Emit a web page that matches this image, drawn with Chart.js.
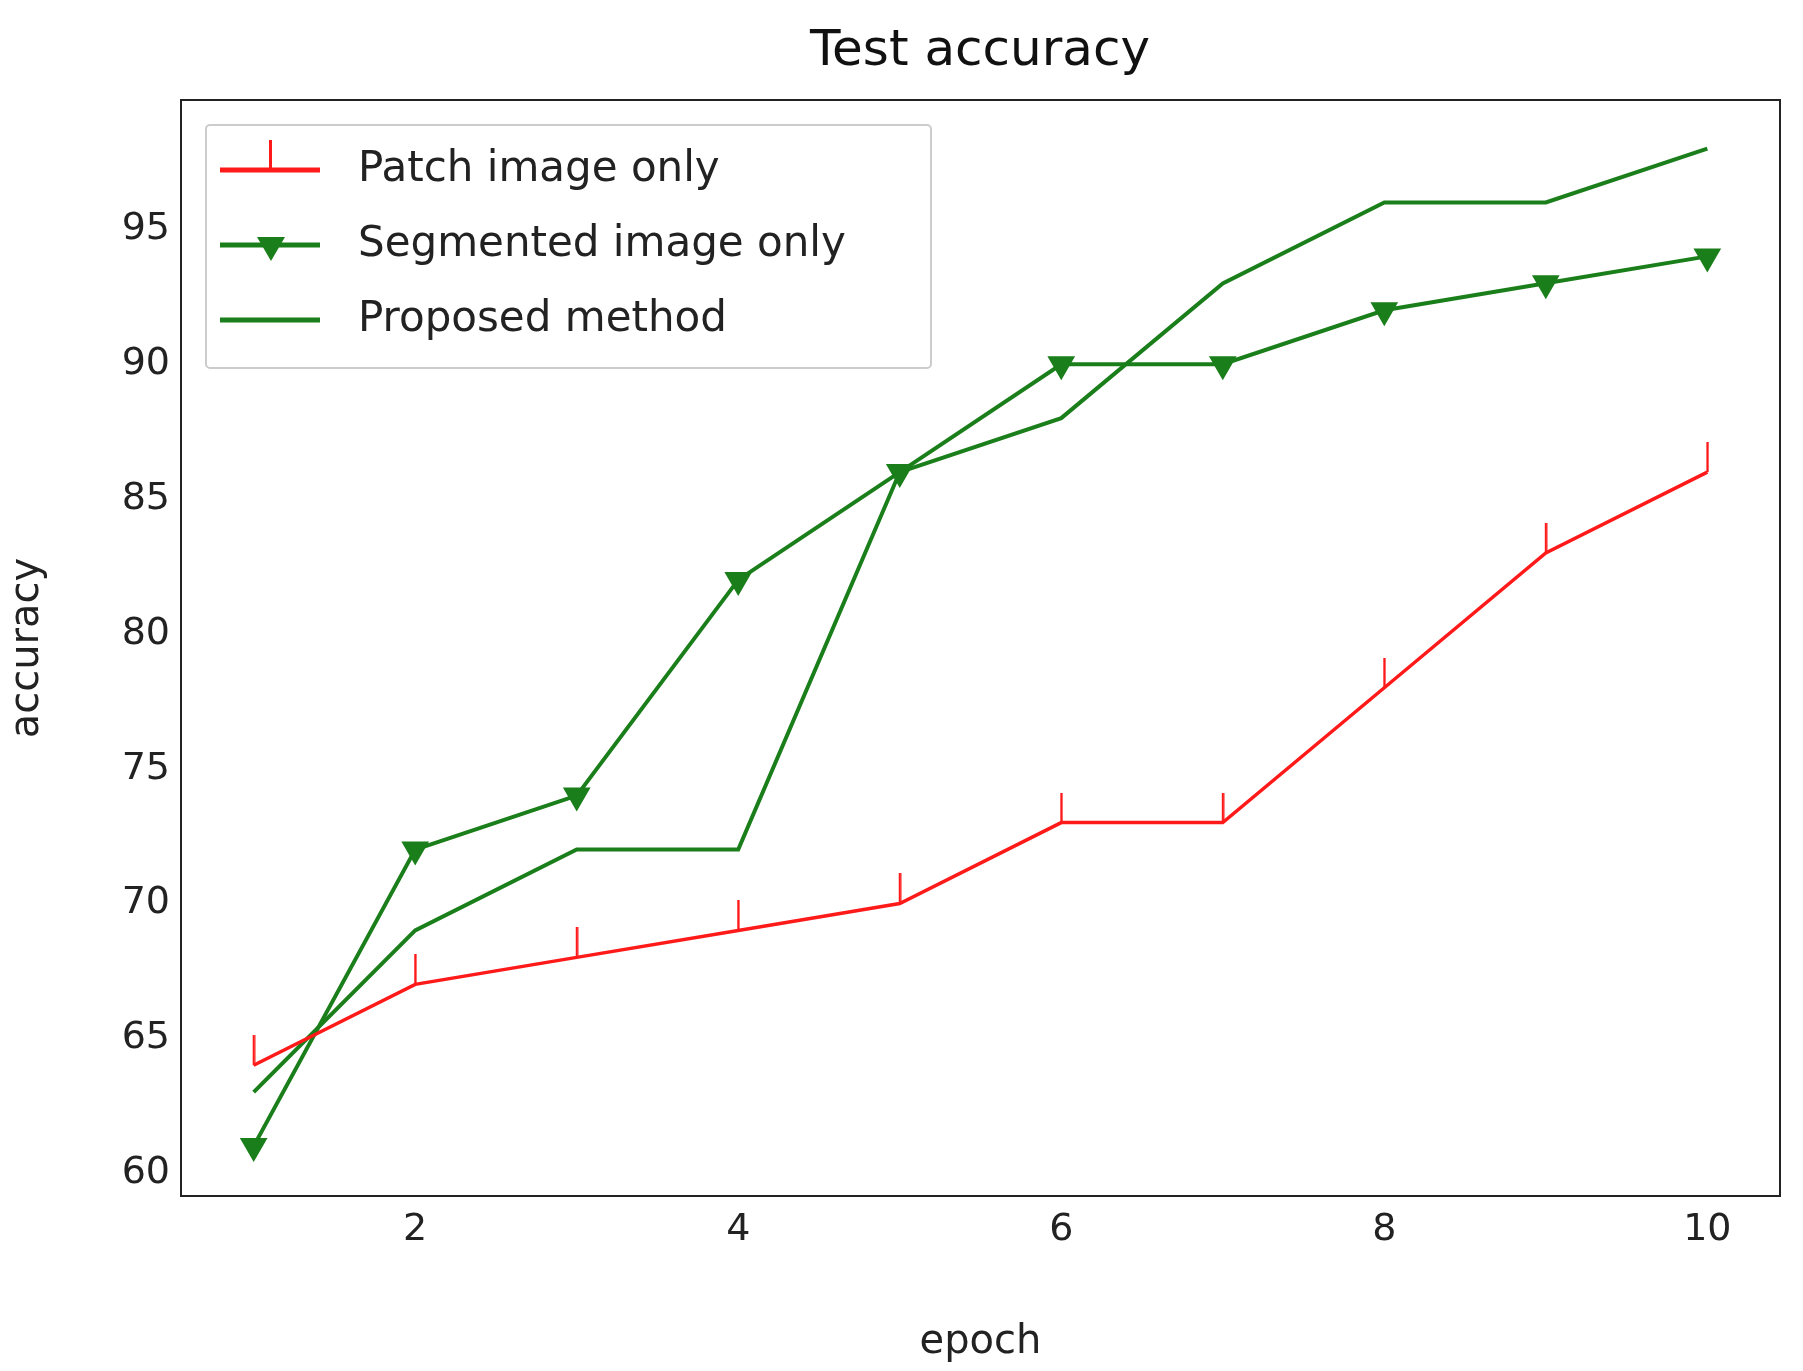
<!DOCTYPE html>
<html><head><meta charset="utf-8">
<script src="https://cdn.jsdelivr.net/npm/chart.js@4"></script>
<style>html,body{margin:0;background:#fff}</style>
</head><body>
<canvas id="c" width="1803" height="1371"></canvas>
<script>
const epochs = [1, 2, 3, 4, 5, 6, 7, 8, 9, 10];
const patchOnly = [64, 67, 68, 69, 70, 73, 73, 78, 83, 86];
const segmentedOnly = [61, 72, 74, 82, 86, 90, 90, 92, 93, 94];
const proposed = [63, 69, 72, 72, 86, 88, 93, 96, 96, 98];
const xTicks = [2, 4, 6, 8, 10];
const yTicks = [60, 65, 70, 75, 80, 85, 90, 95];
const labels = ['Patch image only', 'Segmented image only', 'Proposed method'];

const RED = '#ff1a1a', GREEN = '#1a7f1a';
const font = 'DejaVu Sans';

// vertical tick marker sitting above the point
const tick = document.createElement('canvas');
tick.width = 4; tick.height = 60;
const tctx = tick.getContext('2d');
tctx.fillStyle = RED; tctx.fillRect(1, 0, 2.5, 30);

const pts = a => a.map((v, i) => ({x: epochs[i], y: v}));

const legendPlugin = {
    id: 'legendBox',
    afterDraw(chart) {
        const ctx = chart.ctx;
        ctx.save();
        ctx.fillStyle = 'rgba(255,255,255,0.8)';
        ctx.strokeStyle = '#ccc';
        ctx.lineWidth = 2;
        ctx.beginPath(); ctx.roundRect(206, 125, 725, 243, 4); ctx.fill(); ctx.stroke();
        const rows = [170, 245, 320];
        const cols = [RED, GREEN, GREEN];
        rows.forEach((y, i) => {
            ctx.strokeStyle = cols[i]; ctx.lineWidth = 5;
            ctx.beginPath(); ctx.moveTo(220, y); ctx.lineTo(320, y); ctx.stroke();
            if (i === 0) { ctx.fillStyle = RED; ctx.fillRect(269, y - 30, 3, 30); }
            if (i === 1) {
                ctx.fillStyle = GREEN; ctx.beginPath();
                ctx.moveTo(257, y - 8); ctx.lineTo(285, y - 8); ctx.lineTo(271, y + 16); ctx.fill();
            }
            ctx.fillStyle = '#222'; ctx.font = '42px "' + font + '"';
            ctx.textBaseline = 'middle';
            ctx.fillText(labels[i], 358, y);
        });
        ctx.fillStyle = '#111'; ctx.font = '50px "' + font + '"';
        ctx.textAlign = 'center'; ctx.textBaseline = 'middle';
        ctx.fillText('Test accuracy', 980, 52);
        ctx.restore();
    }
};

new Chart(document.getElementById('c'), {
    type: 'line',
    data: {
        datasets: [
            {label: labels[0], data: pts(patchOnly), borderColor: RED, borderWidth: 3.5,
             pointStyle: tick, pointRadius: 10},
            {label: labels[1], data: pts(segmentedOnly), borderColor: GREEN, backgroundColor: GREEN, borderWidth: 4,
             pointStyle: 'triangle', rotation: 180, pointRadius: 12},
            {label: labels[2], data: pts(proposed), borderColor: GREEN, borderWidth: 4, pointRadius: 0}
        ]
    },
    options: {
        responsive: false, animation: false,
        layout: {padding: {top: 100, right: 23, left: 0, bottom: 0}},
        plugins: {legend: {display: false}, tooltip: {enabled: false}},
        scales: {
            x: {type: 'linear', min: 0.55, max: 10.45,
                afterBuildTicks: s => { s.ticks = xTicks.map(v => ({value: v})); },
                afterFit: s => { s.height = 175; },
                grid: {display: false, drawTicks: true},
                border: {color: '#222', width: 2},
                ticks: {color: '#222', font: {family: font, size: 38}},
                title: {display: true, text: 'epoch', color: '#222', font: {family: font, size: 40}}},
            y: {min: 59.15, max: 99.8,
                afterBuildTicks: s => { s.ticks = yTicks.map(v => ({value: v})); },
                afterFit: s => { s.width = 181; },
                grid: {display: false},
                border: {color: '#222', width: 2},
                ticks: {color: '#222', font: {family: font, size: 38}},
                title: {display: true, text: 'accuracy', color: '#222', font: {family: font, size: 40}}}
        }
    },
    plugins: [legendPlugin, {
        id: 'frame',
        afterDraw(chart) {
            const a = chart.chartArea, ctx = chart.ctx;
            ctx.save(); ctx.strokeStyle = '#222'; ctx.lineWidth = 2;
            ctx.strokeRect(a.left, a.top, a.right - a.left, a.bottom - a.top); ctx.restore();
        }
    }]
});
</script>
</body></html>
